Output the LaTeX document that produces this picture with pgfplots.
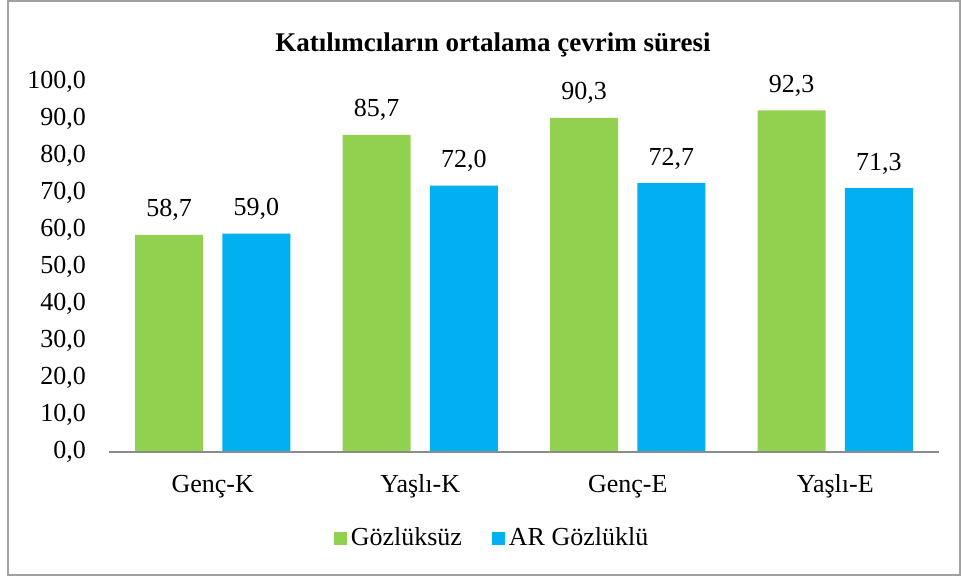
\documentclass[border=0pt]{standalone}
\usepackage{fontspec}
\setmainfont{Liberation Serif}
\usepackage{pgfplots}
\pgfplotsset{compat=1.18}
\definecolor{barGreen}{RGB}{146,208,80}
\definecolor{barBlue}{RGB}{0,176,240}
\definecolor{frameGray}{RGB}{160,160,160}
\definecolor{axisGray}{RGB}{140,140,140}

\newcommand{\lbl}{\fontsize{13}{15}\selectfont}

\begin{document}
\begin{tikzpicture}
% page and frame (1 px of the reference = 0.5pt)
\path[use as bounding box] (-54.5pt,-62.5pt) rectangle (426pt,226pt);
\draw[frameGray, line width=0.7pt] (-50.5pt,-61.5pt) rectangle (425.5pt,225.5pt);

\begin{axis}[
    at={(0,0)}, anchor=south west,
    scale only axis,
    width=415pt, height=185pt,
    ymin=0, ymax=100,
    xmin=-0.5, xmax=3.5,
    ytick={0,10,...,100},
    xtick=data,
    xticklabels={Genç-K, Yaşlı-K, Genç-E, Yaşlı-E},
    major tick length=0pt,
    axis line style={draw=none},
    axis x line*=bottom,
    axis y line*=left,
    ybar,
    bar width=0.328,
    /pgf/number format/.cd, use comma, fixed, fixed zerofill, precision=1,
        1000 sep={}, assume math mode=true,
    /pgfplots/.cd,
    tick label style={font=\lbl},
    yticklabel style={anchor=east, xshift=-8pt},
    xticklabel style={anchor=base, yshift=-20pt},
    nodes near coords,
    every node near coord/.append style={font=\lbl, anchor=base, yshift=9pt},
    legend columns=2,
    legend style={draw=none, font=\lbl, at={(0.4627,-0.2324)}, anchor=center,
        /tikz/every even column/.append style={column sep=13pt}},
    legend image code/.code={\fill[#1] (0pt,-3.3pt) rectangle (6.5pt,3.2pt);},
    clip=false,
]
\addplot[fill=barGreen, draw=none, bar shift=-0.21] coordinates {
    (0,58.7) (1,85.7) (2,90.3) (3,92.3)
};
\addlegendentry{Gözlüksüz}
\addplot[fill=barBlue, draw=none, bar shift=0.21] coordinates {
    (0,59.0) (1,72.0) (2,72.7) (3,71.3)
};
\addlegendentry{AR Gözlüklü}
\draw[axisGray, line width=0.8pt] (axis cs:-0.5,0) -- (axis cs:3.5,0);
\end{axis}

\node[anchor=base, font=\fontsize{13.5}{15}\selectfont\bfseries] at (192pt,200pt)
    {Katılımcıların ortalama çevrim süresi};
\end{tikzpicture}
\end{document}
